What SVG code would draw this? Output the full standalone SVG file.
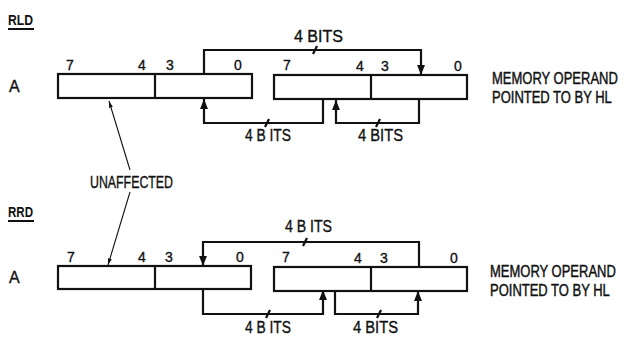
<svg xmlns="http://www.w3.org/2000/svg" width="624" height="337" viewBox="0 0 624 337">
<style>
text{font-family:"Liberation Sans","DejaVu Sans",sans-serif;fill:#111;stroke:#111;stroke-width:0.35;}
.t{font-size:16px;}
.m{font-size:13px;}
.d{font-size:14px;}
.h{font-size:15px;font-weight:bold;stroke-width:0;}
.box{fill:#fff;stroke:#111;stroke-width:2.2;}
.ln{fill:none;stroke:#111;stroke-width:2.2;}
.thin{fill:none;stroke:#111;stroke-width:1.1;}
</style>
<defs>
<marker id="ah" viewBox="0 0 10 10" refX="10" refY="5" markerWidth="4.5" markerHeight="4.5" markerUnits="strokeWidth" orient="auto">
<path d="M0,1 L10,5 L0,9 z" fill="#111"/>
</marker>
<marker id="sa" viewBox="0 0 10 10" refX="10" refY="5" markerWidth="6" markerHeight="6" orient="auto">
<path d="M0,2 L10,5 L0,8 z" fill="#111"/>
</marker>
</defs>
<rect width="624" height="337" fill="#fff"/>

<g id="rld-title"><text class="h" x="8" y="25" textLength="25" lengthAdjust="spacingAndGlyphs">RLD</text><line x1="8" y1="29" x2="34" y2="29" stroke="#111" stroke-width="2"/></g>
<g id="rrd-title"><text class="h" x="8" y="217" textLength="25" lengthAdjust="spacingAndGlyphs">RRD</text><line x1="8" y1="221" x2="34" y2="221" stroke="#111" stroke-width="2"/></g>

<g id="rld-a">
<text class="t" x="9" y="92">A</text>
<rect class="box" x="58" y="74" width="194" height="24"/>
<line class="ln" x1="155" y1="74" x2="155" y2="98"/>
<text class="d" x="66" y="70">7</text><text class="d" x="138" y="70">4</text><text class="d" x="166" y="70">3</text><text class="d" x="234" y="70">0</text>
</g>
<g id="rld-mem">
<rect class="box" x="274" y="75" width="193" height="24"/>
<line class="ln" x1="371" y1="75" x2="371" y2="99"/>
<text class="d" x="283" y="70">7</text><text class="d" x="356" y="71">4</text><text class="d" x="381" y="71">3</text><text class="d" x="454" y="71">0</text>
<text class="m" transform="translate(492,84) scale(1,1.25)">MEMORY OPERAND</text>
<text class="m" transform="translate(492,103) scale(1,1.25)">POINTED TO BY  HL</text>
</g>

<g id="rrd-a">
<text class="t" x="9" y="283">A</text>
<rect class="box" x="58" y="266" width="193" height="23"/>
<line class="ln" x1="155" y1="266" x2="155" y2="289"/>
<text class="d" x="67" y="262">7</text><text class="d" x="138" y="262">4</text><text class="d" x="165" y="262">3</text><text class="d" x="236" y="262">0</text>
</g>
<g id="rrd-mem">
<rect class="box" x="274" y="267" width="193" height="24"/>
<line class="ln" x1="371" y1="267" x2="371" y2="291"/>
<text class="d" x="282" y="262">7</text><text class="d" x="354" y="263">4</text><text class="d" x="380" y="263">3</text><text class="d" x="450" y="263">0</text>
<text class="m" transform="translate(490,277) scale(1,1.25)">MEMORY OPERAND</text>
<text class="m" transform="translate(490,296) scale(1,1.25)">POINTED TO BY  HL</text>
</g>

<g id="unaffected">
<text class="t" x="90" y="188" textLength="83" lengthAdjust="spacingAndGlyphs">UNAFFECTED</text>
</g>

<g id="connectors">
<path class="ln" d="M204,74 V50 H421 V75" marker-end="url(#ah)"/>
<line class="ln" x1="313" y1="54" x2="317" y2="46"/>
<text class="t" x="294" y="42" textLength="49" lengthAdjust="spacingAndGlyphs">4 BITS</text>
<path class="ln" d="M323,99 V123 H204 V99" marker-end="url(#ah)"/>
<line class="ln" x1="265" y1="127" x2="269" y2="119"/>
<text class="t" x="245" y="141" textLength="46" lengthAdjust="spacingAndGlyphs">4 B ITS</text>
<path class="ln" d="M419,99 V123 H336 V100" marker-end="url(#ah)"/>
<line class="ln" x1="376" y1="127" x2="380" y2="119"/>
<text class="t" x="358" y="141" textLength="45" lengthAdjust="spacingAndGlyphs">4 BITS</text>
<line class="thin" x1="130" y1="170" x2="109" y2="101" marker-end="url(#sa)"/>
<line class="thin" x1="130" y1="192" x2="108" y2="265" marker-end="url(#sa)"/>
<path class="ln" d="M419,267 V242 H203 V266" marker-end="url(#ah)"/>
<line class="ln" x1="303" y1="246" x2="307" y2="238"/>
<text class="t" x="285" y="232" textLength="47" lengthAdjust="spacingAndGlyphs">4 B ITS</text>
<path class="ln" d="M203,289 V314 H323 V290" marker-end="url(#ah)"/>
<line class="ln" x1="266" y1="318" x2="270" y2="310"/>
<text class="t" x="245" y="333" textLength="46" lengthAdjust="spacingAndGlyphs">4 B ITS</text>
<path class="ln" d="M335,291 V314 H418 V291" marker-end="url(#ah)"/>
<line class="ln" x1="377" y1="318" x2="381" y2="310"/>
<text class="t" x="353" y="333" textLength="45" lengthAdjust="spacingAndGlyphs">4 BITS</text>
</g>
</svg>
